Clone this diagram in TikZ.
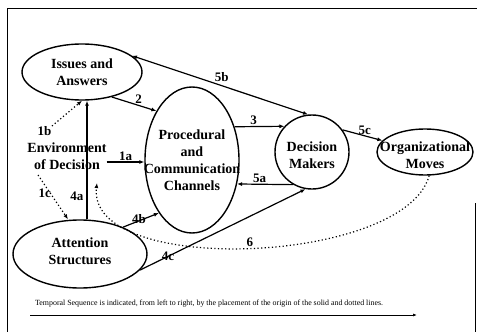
\documentclass[tikz,border=0pt]{standalone}
\usepackage{fontspec}
\setmainfont{Liberation Serif}
\usetikzlibrary{shapes.geometric,arrows.meta,calc}

\begin{document}
\begin{tikzpicture}[x=1pt,y=-1pt,>={Latex[length=5pt,width=4pt]},
    bubble/.style={draw,ellipse,line width=1.4pt,inner sep=0pt},
    bubtext/.style={align=center,inner sep=0pt,font=\fontsize{14}{17}\selectfont\bfseries},
    lbl/.style={font=\fontsize{13}{15}\selectfont\bfseries,inner sep=1pt},
    flow/.style={line width=1.2pt,->},
    dots/.style={line width=1.2pt,dash pattern=on 1.2pt off 2.4pt,->}]
\useasboundingbox (0,0) rectangle (477,332);
% frame
\draw[line width=1pt] (7,332) -- (7,8) -- (477,8);
\draw[line width=1pt] (475,203) -- (475,332);

% bubbles
\node[bubble,minimum width=120pt,minimum height=56pt,
  label={[bubtext]center:Issues and\\Answers}] (issues) at (82,72) {};
\node[bubble,minimum width=94pt,minimum height=146pt,
  label={[bubtext]center:Procedural\\and\\Communication\\Channels}] (proc) at (192,160) {};
\node[bubble,circle,minimum size=74pt,
  label={[bubtext,yshift=-3pt]center:Decision\\Makers}] (dm) at (312,152) {};
\node[bubble,minimum width=96pt,minimum height=46pt,
  label={[bubtext,yshift=-3pt]center:Organizational\\Moves}] (org) at (425,152) {};
\node[bubble,minimum width=134pt,minimum height=68pt,
  label={[bubtext,yshift=3pt]center:Attention\\Structures}] (attn) at (80,254) {};
\node[bubtext] (env) at (67,156) {Environment\\of Decision};

% solid links
\draw[flow] ([xshift=7pt]attn.north) -- node[lbl,pos=0.19,left=2pt]{4a} ([xshift=7pt]attn.north |- issues.south);
\draw[flow] ([yshift=-6pt]env.east) -- node[lbl,above]{1a} ([yshift=-6pt]env.east -| proc.west);
\draw[flow] (issues.-40) -- node[lbl,pos=0.6,above]{2} (proc.126);
\draw[flow] (proc.38) -- node[lbl,pos=0.38,above]{3} (dm.137);
\draw[flow] (dm.-120) -- node[lbl,pos=0.6,above=0pt]{5a} (proc.-28);
\draw[line width=1.2pt,<->] (issues.18) -- node[lbl,pos=0.51,above=2pt]{5b} (dm.96);
\draw[flow] (dm.36) -- node[lbl,pos=0.56,above]{5c} (org.165);
\draw[flow] (attn.32) -- node[lbl,pos=0.45,above=-4pt]{4b} (proc.-122);
\draw[flow] (attn.-15) -- node[lbl,pos=0.17]{4c} (dm.-100);

% dotted links
\draw[dots] ($(env.center)+(-15,-30)$) node[lbl,anchor=north east,inner sep=0pt]{1b} -- (issues.south);
\draw[dots] ($(env.center)+(-29,19)$) -- node[lbl,pos=0.42,left=-2pt]{1c} ($(attn.north)+(-12,0)$);
\draw[dots] (org.-80) .. controls (405,265) and (86,277) .. node[lbl,pos=0.5,above]{6} ($(env.center)+(30,27)$);

% time line
\node[font=\fontsize{7.9}{9}\selectfont,anchor=west,inner sep=0pt] (note) at (35,304)
  {Temporal Sequence is indicated, from left to right, by the placement of the origin of the solid and dotted lines.};
\coordinate (tstart) at (30,315);
\coordinate (tend) at (417,315);
\draw[line width=0.9pt,-{Latex[length=4pt,width=3pt]}] (tstart) -- (tend);
\end{tikzpicture}
\end{document}
